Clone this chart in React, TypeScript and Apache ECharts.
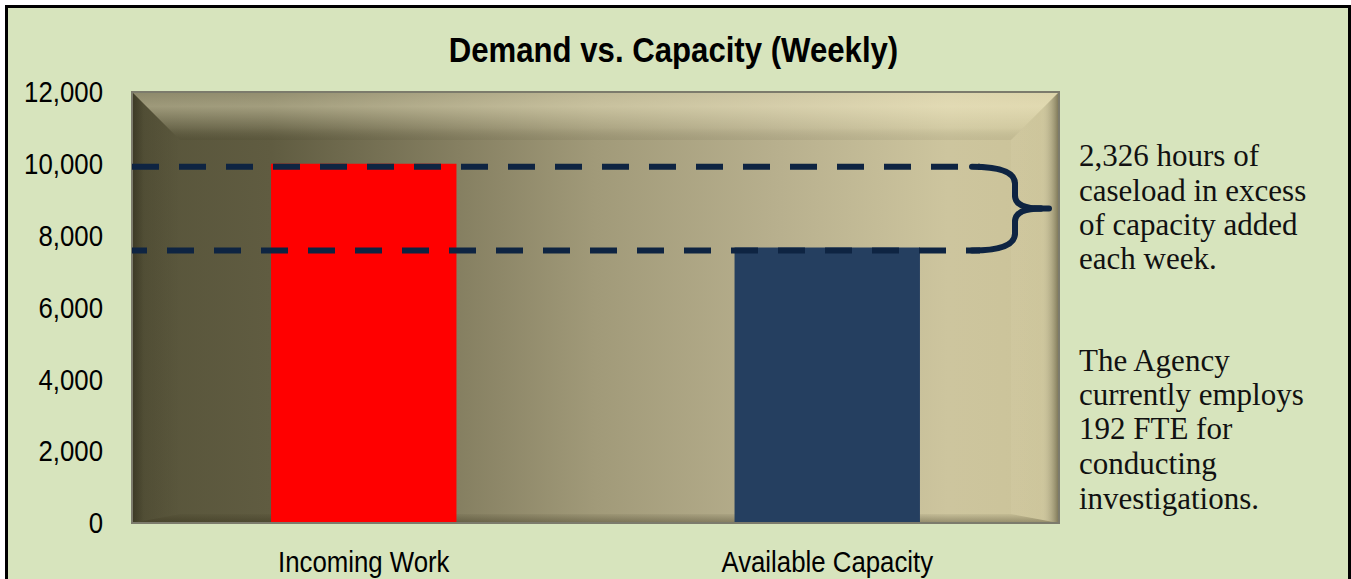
import React, { useEffect, useRef } from "react";
import * as echarts from "echarts";

// ---- data ----
const categories = ["Incoming Work", "Available Capacity"];
const hoursValues = [10000, 7674];
const barColors = ["#ff0000", "#253f60"];
const yMin = 0;
const yMax = 12000;
const yInterval = 2000;
const yTickValues = [0, 2000, 4000, 6000, 8000, 10000, 12000];
const yTickLabels = ["0", "2,000", "4,000", "6,000", "8,000", "10,000", "12,000"];
const titleText = "Demand vs. Capacity (Weekly)";
const noteExcess = ["2,326 hours of", "caseload in excess", "of capacity added", "each week."];
const noteStaff = ["The Agency", "currently employs", "192 FTE for", "conducting", "investigations."];

// ---- layout ----
const W = 1351;
const H = 579;
const GRID = { left: 132, top: 92, right: 292, bottom: 56 };
const SANS = "'Liberation Sans', Arial, sans-serif";
const SERIF = "'Liberation Serif', 'DejaVu Serif', serif";
const NAVY = "#0e2442";
const NARROW_SCALE = 0.86;

export default function App() {
  const ref = useRef<HTMLDivElement>(null);

  useEffect(() => {
    if (!ref.current) return;
    const chart = echarts.init(ref.current, null, { renderer: "svg", width: W, height: H });

    chart.setOption({
      animation: false,
      backgroundColor: "#ffffff",
      grid: { ...GRID, containLabel: false },
      xAxis: {
        type: "category",
        data: categories,
        axisLine: { show: false },
        axisTick: { show: false },
        axisLabel: { show: false },
      },
      yAxis: {
        type: "value",
        min: yMin,
        max: yMax,
        interval: yInterval,
        axisLine: { show: false },
        axisTick: { show: false },
        splitLine: { show: false },
        axisLabel: { show: false },
      },
      series: [
        {
          type: "bar",
          barWidth: "40%",
          z: 2,
          data: hoursValues.map((v, i) => ({ value: v, itemStyle: { color: barColors[i] } })),
        },
      ],
    });

    const L = GRID.left;
    const T = GRID.top;
    const R = W - GRID.right;
    const B = H - GRID.bottom;
    const bev = 48;
    const bevB = 9;

    const yPx = (v: number) => chart.convertToPixel({ yAxisIndex: 0 }, v) as number;
    const xPx = (c: string) => chart.convertToPixel({ xAxisIndex: 0 }, c) as number;

    const yTop = yPx(hoursValues[0]) + 3;
    const yBot = yPx(hoursValues[1]) + 3;
    const yMid = (yTop + yBot) / 2;
    const dashEnd = 980;
    const bx = 1015;
    const tipX = 1049;

    const lin = (x: number, y: number, x2: number, y2: number, stops: [number, string][]) =>
      new echarts.graphic.LinearGradient(x, y, x2, y2, stops.map(([offset, color]) => ({ offset, color })));

    const braceStyle = { stroke: NAVY, lineWidth: 6, lineCap: "round", fill: null };

    const textLines = (lines: string[], centers: number[]) =>
      lines.map((t, i) => ({
        type: "text",
        z: 20,
        style: {
          text: t,
          x: 1079,
          y: centers[i],
          fontSize: 31,
          fontFamily: SERIF,
          fill: "#111",
          align: "left",
          verticalAlign: "middle",
        },
      }));

    const narrowText = (
      text: string,
      x: number,
      y: number,
      size: number,
      align: string,
      weight: string = "normal",
      scale: number = NARROW_SCALE
    ) => ({
      type: "text",
      z: 20,
      x,
      y,
      scaleX: scale,
      style: {
        text,
        x: 0,
        y: 0,
        fontSize: size,
        fontWeight: weight,
        fontFamily: SANS,
        fill: "#000",
        align,
        verticalAlign: "middle",
      },
    });

    chart.setOption({
      graphic: [
        // page frame
        {
          type: "rect",
          z: -10,
          silent: true,
          shape: { x: 6.5, y: 6.5, width: W - 8, height: H + 20 },
          style: { fill: "#d7e4bd", stroke: "#000", lineWidth: 3 },
        },
        // plot base
        {
          type: "rect",
          z: -5,
          silent: true,
          shape: { x: L, y: T, width: R - L, height: B - T },
          style: {
            fill: lin(0, 0, 1, 0, [
              [0, "#57543a"],
              [0.15, "#605c41"],
              [0.35, "#857f61"],
              [0.5, "#a19a79"],
              [0.7, "#b8b08e"],
              [0.88, "#cdc59e"],
              [1, "#cbc398"],
            ]),
          },
        },
        // top bevel
        {
          type: "polygon",
          z: -4,
          silent: true,
          shape: { points: [[L, T], [R, T], [R - bev, T + bev], [L + bev, T + bev]] },
          style: {
            fill: lin(0, 0, 0, 1, [
              [0, "rgba(255,248,210,0.32)"],
              [0.3, "rgba(255,248,210,0.42)"],
              [0.75, "rgba(255,248,210,0.12)"],
              [1, "rgba(30,28,10,0.06)"],
            ]),
          },
        },
        // left bevel
        {
          type: "polygon",
          z: -4,
          silent: true,
          shape: { points: [[L, T], [L + bev, T + bev], [L + bev, B - bevB], [L, B]] },
          style: {
            fill: lin(0, 0, 1, 0, [
              [0, "rgba(20,18,5,0.4)"],
              [0.25, "rgba(20,18,5,0.1)"],
              [1, "rgba(20,18,5,0.0)"],
            ]),
          },
        },
        // right bevel
        {
          type: "polygon",
          z: -4,
          silent: true,
          shape: { points: [[R, T], [R, B], [R - bev, B - bevB], [R - bev, T + bev]] },
          style: {
            fill: lin(0, 0, 1, 0, [
              [0, "rgba(255,250,220,0.06)"],
              [0.6, "rgba(255,250,220,0.04)"],
              [1, "rgba(40,35,15,0.5)"],
            ]),
          },
        },
        // bottom bevel
        {
          type: "polygon",
          z: -4,
          silent: true,
          shape: { points: [[L, B], [R, B], [R - bev, B - bevB], [L + bev, B - bevB]] },
          style: {
            fill: lin(0, 0, 0, 1, [
              [0, "rgba(40,35,15,0.05)"],
              [1, "rgba(40,35,15,0.35)"],
            ]),
          },
        },
        // plot outline
        {
          type: "rect",
          z: 5,
          silent: true,
          shape: { x: L, y: T, width: R - L, height: B - T },
          style: { fill: null, stroke: "#7c7b6c", lineWidth: 2 },
        },
        // dashed lines
        {
          type: "line",
          z: 10,
          silent: true,
          shape: { x1: L, y1: yTop, x2: dashEnd, y2: yTop },
          style: { stroke: NAVY, lineWidth: 6, lineDash: [27, 20] },
        },
        {
          type: "line",
          z: 10,
          silent: true,
          shape: { x1: L, y1: yBot, x2: dashEnd, y2: yBot },
          style: { stroke: NAVY, lineWidth: 6, lineDash: [27, 20], lineDashOffset: 12 },
        },
        // brace
        {
          type: "bezierCurve",
          z: 10,
          silent: true,
          shape: { x1: dashEnd - 8, y1: yTop, cpx1: bx, cpy1: yTop, x2: bx, y2: yTop + 17 },
          style: braceStyle,
        },
        {
          type: "line",
          z: 10,
          silent: true,
          shape: { x1: bx, y1: yTop + 17, x2: bx, y2: yMid - 13 },
          style: braceStyle,
        },
        {
          type: "bezierCurve",
          z: 10,
          silent: true,
          shape: { x1: bx, y1: yMid - 13, cpx1: bx, cpy1: yMid, x2: bx + 26, y2: yMid },
          style: braceStyle,
        },
        {
          type: "line",
          z: 10,
          silent: true,
          shape: { x1: bx + 20, y1: yMid, x2: tipX, y2: yMid },
          style: braceStyle,
        },
        {
          type: "bezierCurve",
          z: 10,
          silent: true,
          shape: { x1: bx, y1: yMid + 13, cpx1: bx, cpy1: yMid, x2: bx + 26, y2: yMid },
          style: braceStyle,
        },
        {
          type: "line",
          z: 10,
          silent: true,
          shape: { x1: bx, y1: yMid + 13, x2: bx, y2: yBot - 17 },
          style: braceStyle,
        },
        {
          type: "bezierCurve",
          z: 10,
          silent: true,
          shape: { x1: bx, y1: yBot - 17, cpx1: bx, cpy1: yBot, x2: dashEnd - 8, y2: yBot },
          style: braceStyle,
        },
        // title
        narrowText(titleText, W / 2 - 2, 50, 35, "center", "bold", 0.89),
        // y-axis tick labels
        ...yTickValues.map((v, i) => narrowText(yTickLabels[i], 103, yPx(v), 30, "right")),
        // x-axis category labels
        ...categories.map((c) => narrowText(c, xPx(c), 562, 30, "center")),
        // notes
        ...textLines(noteExcess, [155, 190, 224, 258]),
        ...textLines(noteStaff, [360, 394, 428, 463, 498]),
      ],
    });

    return () => chart.dispose();
  }, []);

  return (
    <div
      ref={ref}
      style={{ position: "absolute", left: 0, top: 0, width: W, height: H, overflow: "hidden" }}
    />
  );
}
